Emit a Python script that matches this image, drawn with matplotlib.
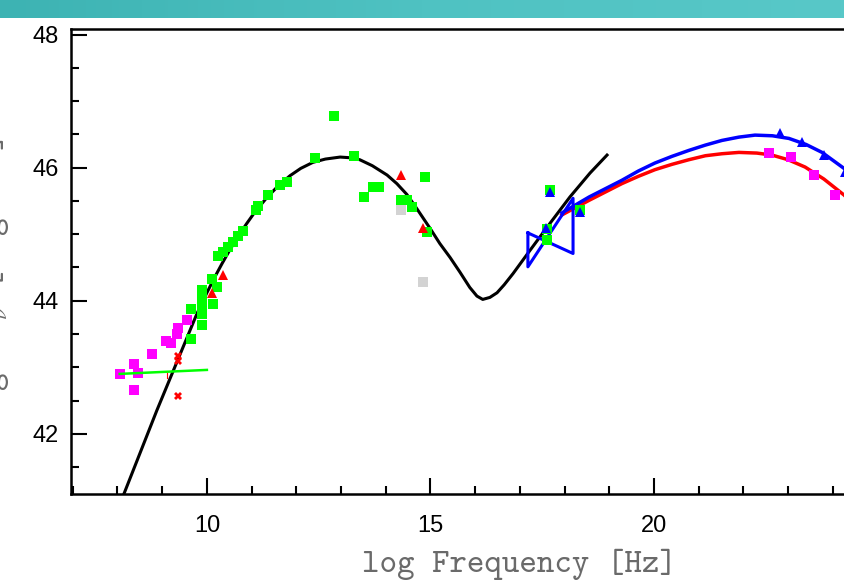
import numpy as np
import matplotlib
matplotlib.use("Agg")
import matplotlib.pyplot as plt
from matplotlib.ticker import MultipleLocator
from matplotlib.colors import LinearSegmentedColormap

plt.rcParams['mathtext.fontset'] = 'cm'
plt.rcParams['font.family'] = ['Liberation Sans', 'DejaVu Sans']

# broadband model: synchrotron + inverse Compton hump
model_x = [8.10, 8.88, 9.78, 10.00, 10.18, 10.34, 10.51, 10.70, 10.89, 11.07, 11.34,
           11.60, 11.86, 12.10, 12.37, 12.65, 12.98, 13.20, 13.42, 13.70, 14.03,
           14.25, 14.47, 14.65, 14.83, 15.00, 15.21, 15.44, 15.66, 15.88, 16.04,
           16.17, 16.33, 16.49, 16.65, 16.85, 17.23, 17.67, 18.12, 18.57, 18.95]
model_y = [41.02, 42.35, 43.81, 44.12, 44.36, 44.56, 44.76, 44.97, 45.16, 45.33, 45.55,
           45.73, 45.88, 45.99, 46.08, 46.13, 46.16, 46.15, 46.12, 46.03, 45.89,
           45.76, 45.60, 45.43, 45.25, 45.08, 44.86, 44.65, 44.43, 44.20, 44.07,
           44.02, 44.05, 44.12, 44.24, 44.41, 44.76, 45.16, 45.56, 45.92, 46.19]

# gamma-ray fits
blue_fit_x = [17.94, 18.55, 19.28, 19.65, 20.02, 20.40, 20.78, 21.15, 21.52, 21.90,
              22.26, 22.65, 23.02, 23.40, 23.76, 24.25, 24.60]
blue_fit_y = [45.32, 45.56, 45.81, 45.95, 46.07, 46.17, 46.26, 46.34, 46.41, 46.46,
              46.49, 46.48, 46.44, 46.35, 46.23, 45.99, 45.76]
red_fit_x = [17.94, 18.55, 19.28, 19.65, 20.02, 20.40, 20.78, 21.15, 21.52, 21.90,
             22.30, 22.64, 23.00, 23.38, 23.80, 24.25, 24.60]
red_fit_y = [45.29, 45.51, 45.76, 45.87, 45.97, 46.05, 46.12, 46.18, 46.21, 46.23,
             46.22, 46.19, 46.12, 46.01, 45.83, 45.59, 45.36]

# X-ray bowtie
bow_x = [17.18, 18.19, 18.19, 17.18, 17.18]
bow_y = [45.02, 44.71, 45.54, 44.51, 45.02]

# radio slope
radio_line_x = [8.05, 10.0]
radio_line_y = [42.90, 42.96]
radio_limit_x = [9.10, 9.10]
radio_limit_y = [42.84, 42.92]

green_x = [9.64, 9.64, 9.89, 9.89, 9.89, 9.89, 9.89, 10.13, 10.11, 10.22, 10.25, 10.36,
           10.47, 10.58, 10.69, 10.81, 11.10, 11.14, 11.36, 11.63, 11.79, 12.42, 12.84,
           13.29, 13.51, 13.71, 13.85, 14.34, 14.47, 14.59, 14.88, 14.92,
           17.67, 18.34, 17.61, 17.61]
green_y = [43.42, 43.87, 44.16, 44.05, 43.95, 43.80, 43.63, 43.95, 44.32, 44.20, 44.67, 44.73,
           44.81, 44.88, 44.97, 45.05, 45.36, 45.42, 45.59, 45.74, 45.78, 46.14, 46.77,
           46.17, 45.56, 45.71, 45.71, 45.51, 45.51, 45.41, 45.86, 45.03,
           45.66, 45.36, 45.08, 44.91]

magenta_x = [8.05, 8.37, 8.46, 8.37, 8.77, 9.08, 9.19, 9.33, 9.35, 9.55,
             22.57, 23.06, 23.58, 24.05]
magenta_y = [42.90, 43.05, 42.91, 42.66, 43.20, 43.39, 43.36, 43.50, 43.59, 43.71,
             46.22, 46.16, 45.89, 45.59]

red_tri_x = [10.11, 10.36, 14.34, 14.83]
red_tri_y = [44.12, 44.39, 45.89, 45.09]

gray_x = [14.34, 14.83]
gray_y = [45.37, 44.28]

blue_tri_x = [17.67, 18.34, 17.58, 22.82, 23.31, 23.80, 24.27]
blue_tri_y = [45.63, 45.33, 45.09, 46.52, 46.38, 46.19, 45.93]

red_x_x = [9.35, 9.35, 9.35]
red_x_y = [43.17, 43.10, 42.57]

fig = plt.figure(figsize=(8.44, 5.82), dpi=100)

# teal banner along the top
band = fig.add_axes([0, 1 - 18 / 582, 1, 18 / 582])
teal = LinearSegmentedColormap.from_list('teal', ['#3db3b3', '#4fc2c2', '#58c8c8'])
band.imshow(np.linspace(0, 1, 256).reshape(1, -1), aspect='auto', cmap=teal)
band.set_axis_off()

ax = fig.add_axes([0.0841, 0.1507, 0.9556, 0.800])
ax.set_xlim(6.96, 25)
ax.set_ylim(41.09, 48.09)

ax.plot(model_x, model_y, color='black', lw=2.2, zorder=2)
ax.plot(red_fit_x, red_fit_y, color='#ff0000', lw=2.5, zorder=3)
ax.plot(blue_fit_x, blue_fit_y, color='#0000ff', lw=2.5, zorder=4)
ax.plot(bow_x, bow_y, color='#0000ff', lw=2.2, zorder=4)

ms = 6.6
ax.plot(magenta_x, magenta_y, 's', color='#ff00ff', ms=ms, mew=0, zorder=5)
ax.plot(gray_x, gray_y, 's', color='#d3d3d3', ms=ms, mew=0, zorder=5)
ax.plot(green_x, green_y, 's', color='#00ff00', ms=ms, mew=0, zorder=5)
ax.plot(radio_line_x, radio_line_y, color='#00ff00', lw=1.8, zorder=6)
ax.plot(radio_limit_x, radio_limit_y, color='#ff0000', lw=0.8, zorder=6)
ax.plot(red_tri_x, red_tri_y, '^', color='#ff0000', ms=7.5, mew=0, zorder=6)
ax.plot(blue_tri_x, blue_tri_y, '^', color='#0000ff', ms=7.5, mew=0, zorder=6)
ax.plot(red_x_x, red_x_y, 'X', color='#ff0000', ms=5.5, mew=0, zorder=6)

ax.set_xticks([10, 15, 20])
ax.set_yticks([42, 44, 46, 48])
ax.xaxis.set_minor_locator(MultipleLocator(1))
ax.yaxis.set_minor_locator(MultipleLocator(0.5))
ax.tick_params(which='both', direction='in', top=False, right=False, width=1.5, colors='black')
ax.tick_params(which='major', length=11.5)
ax.tick_params(which='minor', length=5.8)
ax.tick_params(axis='y', pad=9.0, labelsize=17)
ax.tick_params(axis='x', pad=15, labelsize=17)
for sp in ax.spines.values():
    sp.set_linewidth(1.8)

fig.text(0.616, 0.018, 'log Frequency [Hz]', family='cmtt10', size=24,
         color='#6a6a6a', ha='center', va='baseline')
fig.text(0.0154, 0.763, r'log $\nu$L$_\nu$ [erg s$^{-1}$]', family='cmtt10', size=24,
         color='#6a6a6a', rotation=90, ha='right', va='top')

fig.savefig('out.png', dpi=100)
